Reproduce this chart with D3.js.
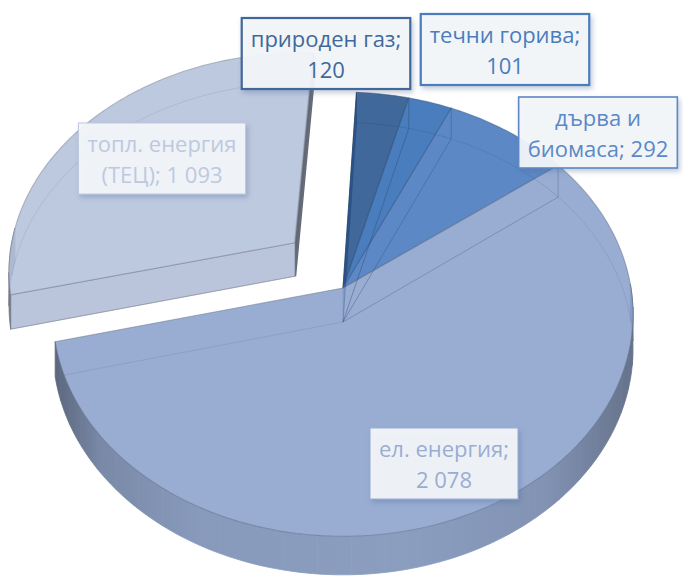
<!DOCTYPE html>
<html>
<head>
<meta charset="utf-8">
<script src="https://cdn.jsdelivr.net/npm/d3@7"></script>
<style>
  body { margin: 0; background: #fff; }
  svg { display: block; }
</style>
</head>
<body>
<div id="chart"></div>
<script>
// data
const categories = ["природен газ", "течни горива", "дърва и биомаса", "ел. енергия", "топл. енергия (ТЕЦ)"];
const values = [120, 101, 292, 2078, 1093];
const colors = ["#41689a", "#4a7dbd", "#5b88c6", "#99add3", "#bdc9df"];
const exploded = [0, 0, 0, 0, 1];
// label box centres (layout only)
const labelCenters = [[326, 54], [505, 50], [598, 133], [444, 464], [162, 159]];
const labelBorder = [2.2, 2.2, 1.6, 1, 1];

const width = 683, height = 576;

// simple perspective for the tilted disc
const cx = 343, cy = 288, F = 288, G = 219, P = 0.118, T = 34;
const firstAngle = 3 * Math.PI / 180;
const explodeDist = 0.22, explodeLift = 15;
const topAlpha = 0.88;

const fmt = d3.formatLocale({decimal: ",", thousands: "\u00a0", grouping: [3], currency: ["", ""]}).format(",");

const svg = d3.select("#chart").append("svg")
    .attr("width", width)
    .attr("height", height);
const defs = svg.append("defs");

const shadow = defs.append("filter").attr("id", "shadow")
    .attr("x", "-20%").attr("y", "-20%").attr("width", "140%").attr("height", "150%");
shadow.append("feDropShadow")
    .attr("dx", 2).attr("dy", 3).attr("stdDeviation", 2.5)
    .attr("flood-color", "#4f6694").attr("flood-opacity", 0.35);

// colour that looks like `hex` once drawn with opacity topAlpha over white
function under(hex) {
  const c = d3.rgb(hex);
  const f = v => Math.max(0, Math.min(255, (v - (1 - topAlpha) * 255) / topAlpha));
  return d3.rgb(f(c.r), f(c.g), f(c.b)).formatHex();
}

function proj(X, Z, h, lift) {
  const k = 1 / (1 + P * Z);
  return [cx + F * X * k, cy - G * Z * k + h * T * k - lift];
}

const arcs = d3.pie().sort(null).value(d => d)
    .startAngle(firstAngle).endAngle(firstAngle + 2 * Math.PI)(values);
const N = arcs.length;

const sides = [], tops = [], edges = [];
const line = d3.line();

arcs.forEach((a, i) => {
  const mid = (a.startAngle + a.endAngle) / 2;
  const ox = exploded[i] ? explodeDist * Math.sin(mid) : 0;
  const oz = exploded[i] ? explodeDist * Math.cos(mid) : 0;
  const lift = exploded[i] ? explodeLift : 0;
  const pt = (r, ang, h) => proj(ox + r * Math.sin(ang), oz + r * Math.cos(ang), h, lift);
  const base = colors[i];
  const dark = d3.color(base).darker(1.2);

  const grad = defs.append("linearGradient").attr("id", "side" + i)
      .attr("gradientUnits", "userSpaceOnUse")
      .attr("x1", cx - F + ox * F).attr("x2", cx + F + ox * F)
      .attr("y1", 0).attr("y2", 0);
  [[0, 1.45], [0.08, 0.65], [0.25, 0.32], [0.6, 0.26], [0.85, 0.45], [1, 1.15]].forEach(s => {
    grad.append("stop").attr("offset", s[0]).attr("stop-color", d3.color(base).darker(s[1]).formatHex());
  });

  // top face
  const n = Math.max(2, Math.ceil((a.endAngle - a.startAngle) / (Math.PI / 180)));
  const angs = d3.range(n + 1).map(k => a.startAngle + (a.endAngle - a.startAngle) * k / n);
  const topPts = [pt(0, 0, 0)].concat(angs.map(g => pt(1, g, 0)));
  tops.push({d: line(topPts) + "Z", z: oz + 0.5 * Math.cos(mid), fill: under(base), stroke: dark});

  // hidden bottom rim at the back, seen through the top
  const back = angs.filter(g => Math.cos(g) > 0);
  if (back.length > 1) edges.push({d: line(back.map(g => pt(1, g, 1))), stroke: dark});

  // outer side, only the part that faces the viewer
  const step = 6 * Math.PI / 180;
  const m = Math.max(1, Math.ceil((a.endAngle - a.startAngle) / step));
  for (let k = 0; k < m; k++) {
    const s0 = a.startAngle + (a.endAngle - a.startAngle) * k / m;
    const s1 = a.startAngle + (a.endAngle - a.startAngle) * (k + 1) / m;
    if (Math.cos((s0 + s1) / 2) >= 0.05) continue;
    const sub = d3.range(5).map(j => s0 + (s1 - s0) * j / 4);
    const pts = sub.map(g => pt(1, g, 0)).concat(sub.slice().reverse().map(g => pt(1, g, 1)));
    const fill = "url(#side" + i + ")";
    sides.push({d: line(pts) + "Z", z: oz + Math.cos((s0 + s1) / 2), fill: fill, stroke: fill, sw: 0.8});
  }

  // radial faces: filled only where a gap exposes them and they face the viewer
  [[a.startAngle, -1, (i + N - 1) % N], [a.endAngle, 1, (i + 1) % N]].forEach(([g, dir, j]) => {
    const pts = [pt(0, g, 0), pt(1, g, 0), pt(1, g, 1), pt(0, g, 1)];
    const normal = g + dir * Math.PI / 2;
    const exposed = exploded[i] || exploded[j];
    const facing = Math.cos(normal) < 0.08;
    if (exposed && facing) {
      const shade = 0.05 + 1.8 * Math.pow(Math.max(0, Math.sin(normal)), 6);
      const fill = d3.color(base).darker(shade).formatHex();
      sides.push({d: line(pts) + "Z", z: oz + 0.5 * Math.cos(g) + 0.001, fill: fill,
        stroke: shade > 1 ? fill : dark, sw: shade > 1 ? 2.5 : 0.6});
    }
    edges.push({d: line([pts[3], pts[2], pts[1]]), stroke: dark});
  });
});

const pie = svg.append("g");
pie.selectAll("path.side")
  .data(sides.sort((p, q) => q.z - p.z))
  .enter().append("path")
    .attr("class", "side")
    .attr("d", d => d.d)
    .attr("fill", d => d.fill)
    .attr("stroke", d => d.stroke)
    .attr("stroke-width", d => d.sw);

pie.selectAll("path.top")
  .data(tops.sort((p, q) => q.z - p.z))
  .enter().append("path")
    .attr("class", "top")
    .attr("d", d => d.d)
    .attr("fill", d => d.fill)
    .attr("fill-opacity", topAlpha)
    .attr("stroke", d => d.stroke)
    .attr("stroke-opacity", 0.5)
    .attr("stroke-width", 1.1);

// faint hidden edges, as if the solid were slightly transparent
pie.selectAll("path.edge")
  .data(edges)
  .enter().append("path")
    .attr("class", "edge")
    .attr("d", d => d.d)
    .attr("fill", "none")
    .attr("stroke", d => d.stroke)
    .attr("stroke-opacity", 0.22)
    .attr("stroke-width", 1);

// data labels
const labels = svg.append("g")
    .attr("font-family", "'Open Sans', 'Noto Sans', sans-serif")
    .attr("font-size", 22);

categories.forEach((cat, i) => {
  const words = (cat + "; " + fmt(values[i])).split(" ");
  const lines = [words.slice(0, 2).join(" "), words.slice(2).join(" ")];
  const g = labels.append("g").attr("transform", "translate(" + labelCenters[i] + ")");
  const box = g.append("rect");
  const text = g.append("text")
      .attr("text-anchor", "middle")
      .attr("fill", colors[i]);
  lines.forEach((l, j) => {
    text.append("tspan").attr("x", 0).attr("y", j === 0 ? -7 : 24).text(l);
  });
  const bb = text.node().getBBox();
  box.attr("x", bb.x - 9).attr("y", bb.y - 5)
     .attr("width", bb.width + 18).attr("height", bb.height + 10)
     .attr("fill", "#f4f6fa")
     .attr("fill-opacity", 0.93)
     .attr("stroke", colors[i])
     .attr("stroke-width", labelBorder[i])
     .attr("filter", "url(#shadow)");
});
</script>
</body>
</html>
